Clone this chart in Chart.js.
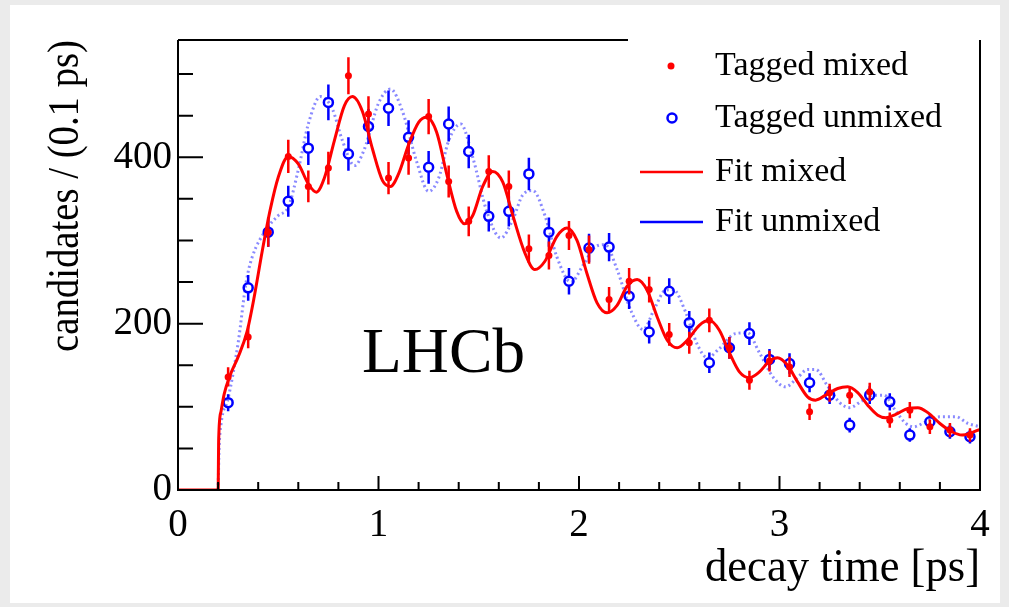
<!DOCTYPE html>
<html>
<head>
<meta charset="utf-8">
<script src="https://cdn.jsdelivr.net/npm/chart.js@4/dist/chart.umd.min.js"></script>
<style>
  html, body { margin: 0; padding: 0; background: #ebebeb; }
  #wrap { position: absolute; left: 0; top: 0; width: 1009px; height: 607px; }
</style>
</head>
<body>
<div id="wrap"><canvas id="oscGraph" width="1009" height="607"></canvas></div>
<script>
// binned data, bin centres in ps (0.1 ps bins)
const binCentres = [0.25, 0.35, 0.45, 0.55, 0.65, 0.75, 0.85, 0.95, 1.05, 1.15,
    1.25, 1.35, 1.45, 1.55, 1.65, 1.75, 1.85, 1.95, 2.05, 2.15,
    2.25, 2.35, 2.45, 2.55, 2.65, 2.75, 2.85, 2.95, 3.05, 3.15,
    3.25, 3.35, 3.45, 3.55, 3.65, 3.75, 3.85, 3.95];
const taggedMixed = [136, 184, 310, 401, 365, 387, 498, 452, 375, 399,
    449, 371, 323, 383, 365, 290, 282, 306, 289, 229,
    251, 241, 187, 177, 204, 171, 132, 155, 148, 94,
    117, 114, 118, 84, 96, 76, 72, 66];
const taggedUnmixed = [105, 243, 310, 347, 411, 466, 404, 437, 459, 424,
    388, 440, 407, 329, 335, 380, 310, 251, 291, 292,
    233, 190, 239, 201, 153, 171, 188, 157, 152, 129,
    114, 78, 114, 106, 66, 82, 70, 64];

// fit curves
const fitMixedT = [0, 0.2, 0.203, 0.215, 0.23, 0.26, 0.3, 0.344, 0.38, 0.42,
    0.46, 0.5, 0.55, 0.6, 0.65, 0.69, 0.73, 0.78, 0.83,
    0.87, 0.92, 0.97, 1.02, 1.06, 1.1, 1.15, 1.2, 1.24, 1.29,
    1.34, 1.39, 1.43, 1.47, 1.52, 1.57, 1.62, 1.67, 1.73, 1.78,
    1.83, 1.89, 1.94, 1.99, 2.04, 2.09, 2.14, 2.19, 2.24, 2.29,
    2.34, 2.39, 2.44, 2.49, 2.54, 2.6, 2.65, 2.7, 2.75, 2.8,
    2.85, 2.9, 2.95, 2.99, 3.04, 3.09, 3.14, 3.18, 3.23, 3.29,
    3.34, 3.39, 3.44, 3.49, 3.53, 3.58, 3.64, 3.69, 3.74, 3.8,
    3.86, 3.91, 3.96, 4.0];
const fitMixed = [0, 0, 62, 95, 115, 138, 160, 190, 232, 287,
    337, 376, 401, 392, 368, 358, 375, 420, 462,
    473, 455, 410, 372, 365, 380, 415, 442, 448, 430,
    380, 335, 320, 330, 365, 383, 370, 330, 285, 265,
    275, 305, 315, 300, 260, 225, 213, 222, 245, 253,
    240, 208, 180, 171, 180, 198, 204, 192, 165, 142,
    135, 142, 155, 159, 150, 130, 112, 108, 114, 122,
    124, 117, 102, 90, 87, 91, 98, 99, 93, 80,
    70, 66, 69, 73];
const fitUnmixedT = [0.2, 0.205, 0.215, 0.25, 0.3, 0.34, 0.37, 0.44, 0.5, 0.55,
    0.6, 0.65, 0.71, 0.77, 0.82, 0.88, 0.93, 1.0, 1.06, 1.12,
    1.19, 1.25, 1.3, 1.35, 1.41, 1.47, 1.54, 1.61, 1.67, 1.72,
    1.77, 1.83, 1.89, 1.96, 2.02, 2.08, 2.13, 2.19, 2.26, 2.32,
    2.38, 2.43, 2.47, 2.53, 2.59, 2.64, 2.7, 2.78, 2.84, 2.9,
    2.97, 3.03, 3.09, 3.14, 3.18, 3.24, 3.3, 3.35, 3.41, 3.47,
    3.52, 3.58, 3.63, 3.67, 3.73, 3.8, 3.88, 3.94, 4.0];
const fitUnmixed = [0, 50, 80, 110, 177, 250, 280, 313, 330, 340,
    385, 440, 473, 458, 420, 390, 410, 465, 482, 455,
    395, 359, 375, 420, 440, 400, 335, 303, 325, 355,
    360, 330, 280, 250, 270, 292, 295, 265, 215, 193,
    220, 240, 241, 215, 175, 159, 170, 188, 189, 165,
    135, 124, 135, 145, 145, 125, 105, 99, 107, 114,
    114, 95, 80, 76, 82, 88, 88, 80, 76];

// axis and legend texts
const xTitle = "decay time [ps]";
const yTitle = "candidates / (0.1 ps)";
const legendLabels = ["Tagged mixed", "Tagged unmixed", "Fit mixed", "Fit unmixed"];
const experimentLabel = "LHCb";

const SERIF = "'Liberation Serif', 'DejaVu Serif', serif";
const RED = "#ff0000";
const BLUE = "#0000ff";

function to_points(xs, ys) {
    return xs.map((x, i) => ({ x: x, y: ys[i] }));
}

// draws text squeezed or stretched along its own direction to a given length
function fit_text(ctx, txt, x, y, length) {
    const w = ctx.measureText(txt).width;
    ctx.save();
    ctx.translate(x, y);
    ctx.scale(length / w, 1);
    ctx.fillText(txt, 0, 0);
    ctx.restore();
}

// vertical Poisson error bars drawn under each point dataset
const errorBarPlugin = {
    id: "errorBars",
    beforeDatasetDraw(chart, args) {
        const ds = chart.data.datasets[args.index];
        if (!ds.errorBars) return;
        const ctx = chart.ctx;
        const xs = chart.scales.x, ys = chart.scales.y;
        const gap = ds.errorGap || 0;
        ctx.save();
        ctx.strokeStyle = ds.borderColor;
        ctx.lineWidth = 2.5;
        ds.data.forEach(p => {
            const err = Math.sqrt(p.y);
            const px = xs.getPixelForValue(p.x);
            const py = ys.getPixelForValue(p.y);
            const top = ys.getPixelForValue(p.y + err);
            const bot = ys.getPixelForValue(p.y - err);
            ctx.beginPath();
            ctx.moveTo(px, top);
            ctx.lineTo(px, py - gap);
            ctx.moveTo(px, py + gap);
            ctx.lineTo(px, bot);
            ctx.stroke();
        });
        ctx.restore();
    }
};

// page panel, frame, inward ticks, titles, legend
const decorPlugin = {
    id: "decor",
    beforeDraw(chart) {
        const ctx = chart.ctx;
        ctx.save();
        ctx.fillStyle = "#ebebeb";
        ctx.fillRect(0, 0, chart.width, chart.height);
        ctx.fillStyle = "#ffffff";
        ctx.fillRect(10, 5, 990, 598);
        ctx.restore();
    },
    afterDraw(chart) {
        const ctx = chart.ctx;
        const a = chart.chartArea;
        const xs = chart.scales.x, ys = chart.scales.y;
        ctx.save();
        ctx.strokeStyle = "#000";
        ctx.lineWidth = 2;
        ctx.beginPath();
        ctx.moveTo(a.left, a.top);
        ctx.lineTo(a.left, a.bottom);
        ctx.lineTo(a.right, a.bottom);
        ctx.lineTo(a.right, a.top);
        ctx.moveTo(a.left, a.top);
        ctx.lineTo(628, a.top);
        ctx.stroke();

        ctx.beginPath();
        for (let i = 0; i <= 20; i++) {
            const px = xs.getPixelForValue(i * 0.2);
            const len = i % 5 === 0 ? 14 : 8;
            ctx.moveTo(px, a.bottom);
            ctx.lineTo(px, a.bottom - len);
        }
        for (let i = 0; i <= 10; i++) {
            const py = ys.getPixelForValue(i * 50);
            const len = i % 4 === 0 ? 25 : 15;
            ctx.moveTo(a.left, py);
            ctx.lineTo(a.left + len, py);
        }
        ctx.stroke();

        ctx.fillStyle = "#000";
        ctx.textBaseline = "alphabetic";
        ctx.textAlign = "left";
        ctx.font = "46px " + SERIF;
        fit_text(ctx, xTitle, a.right - 275, 581, 275);

        ctx.font = "44px " + SERIF;
        ctx.save();
        ctx.translate(78, 352);
        ctx.rotate(-Math.PI / 2);
        fit_text(ctx, yTitle, 0, 0, 312);
        ctx.restore();

        ctx.font = "64px " + SERIF;
        fit_text(ctx, experimentLabel, 362, 372, 163);

        // legend
        const rows = [66, 118, 172, 222];
        ctx.font = "34px " + SERIF;
        ctx.textBaseline = "middle";
        ctx.fillStyle = "#000";
        legendLabels.forEach((txt, i) => {
            ctx.fillText(txt, 715, rows[i]);
        });
        ctx.fillStyle = RED;
        ctx.beginPath();
        ctx.arc(671, rows[0], 3.5, 0, Math.PI * 2);
        ctx.fill();
        ctx.strokeStyle = BLUE;
        ctx.lineWidth = 2.5;
        ctx.beginPath();
        ctx.arc(672, rows[1], 4.5, 0, Math.PI * 2);
        ctx.stroke();
        ctx.strokeStyle = RED;
        ctx.beginPath();
        ctx.moveTo(640, rows[2]);
        ctx.lineTo(703, rows[2]);
        ctx.stroke();
        ctx.strokeStyle = BLUE;
        ctx.beginPath();
        ctx.moveTo(640, rows[3]);
        ctx.lineTo(703, rows[3]);
        ctx.stroke();
        ctx.restore();
    }
};

function create_oscillation_graph() {
    const config = {
        type: "line",
        data: {
            datasets: [
                {
                    label: legendLabels[3],
                    data: to_points(fitUnmixedT, fitUnmixed),
                    borderColor: "rgba(60, 60, 255, 0.6)",
                    borderWidth: 3,
                    borderDash: [2, 3],
                    pointRadius: 0,
                    cubicInterpolationMode: "monotone",
                    order: 4
                },
                {
                    label: legendLabels[1],
                    data: to_points(binCentres, taggedUnmixed),
                    showLine: false,
                    borderColor: BLUE,
                    backgroundColor: "rgba(0,0,0,0)",
                    pointRadius: 4.5,
                    pointBorderWidth: 2.5,
                    errorBars: true,
                    errorGap: 5,
                    order: 3
                },
                {
                    label: legendLabels[2],
                    data: to_points(fitMixedT, fitMixed),
                    borderColor: RED,
                    borderWidth: 3,
                    pointRadius: 0,
                    cubicInterpolationMode: "monotone",
                    order: 2
                },
                {
                    label: legendLabels[0],
                    data: to_points(binCentres, taggedMixed),
                    showLine: false,
                    borderColor: RED,
                    backgroundColor: RED,
                    pointRadius: 3.5,
                    pointBorderWidth: 0,
                    errorBars: true,
                    errorGap: 0,
                    order: 1
                }
            ]
        },
        options: {
            responsive: false,
            animation: false,
            layout: { padding: { left: 0, top: 40, right: 29, bottom: 0 } },
            plugins: { legend: { display: false }, tooltip: { enabled: false } },
            scales: {
                x: {
                    type: "linear",
                    min: 0,
                    max: 4,
                    grid: { display: false, drawTicks: false },
                    border: { display: false },
                    ticks: {
                        stepSize: 1,
                        includeBounds: false,
                        padding: 12,
                        color: "#000",
                        font: { family: SERIF, size: 39 },
                        maxRotation: 0
                    },
                    afterFit: scale => { scale.height = 117; }
                },
                y: {
                    type: "linear",
                    min: 0,
                    max: 541,
                    grid: { display: false, drawTicks: false },
                    border: { display: false },
                    ticks: {
                        stepSize: 200,
                        includeBounds: false,
                        padding: 6,
                        color: "#000",
                        font: { family: SERIF, size: 39 }
                    },
                    afterFit: scale => { scale.width = 178; }
                }
            }
        },
        plugins: [errorBarPlugin, decorPlugin]
    };
    return new Chart("oscGraph", config);
}

create_oscillation_graph();
</script>
</body>
</html>
